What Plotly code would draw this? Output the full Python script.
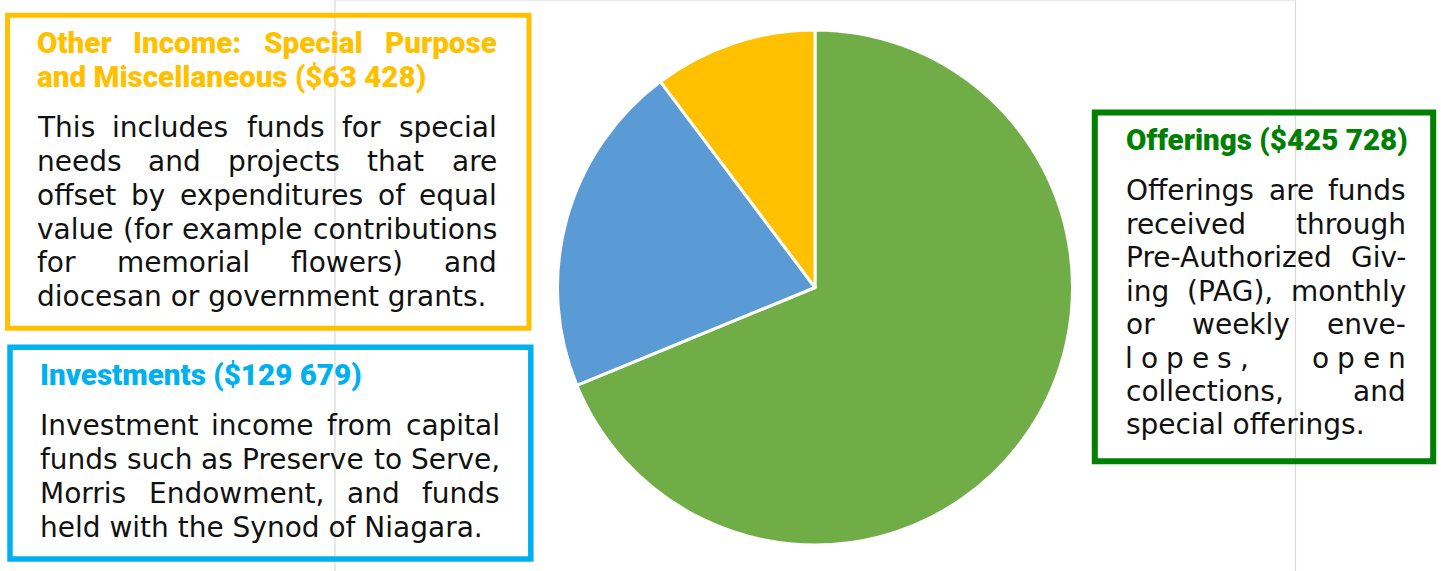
import plotly.graph_objects as go

# ---------------- data ----------------
categories = ["Offerings", "Investments", "Other Income: Special Purpose and Miscellaneous"]
values = [425728, 129679, 63428]
slice_colors = ["#70AD47", "#5B9BD5", "#FFC000"]


def money(v):
    return "($" + f"{v:,}".replace(",", " ") + ")"


other_title = ["Other Income: Special Purpose", "and Miscellaneous " + money(values[2])]
other_body = [
    "This includes funds for special",
    "needs and projects that are",
    "offset by expenditures of equal",
    "value (for example contributions",
    "for memorial flowers) and",
    "diocesan or government grants.",
]
inv_title = ["Investments " + money(values[1])]
inv_body = [
    "Investment income from capital",
    "funds such as Preserve to Serve,",
    "Morris Endowment, and funds",
    "held with the Synod of Niagara.",
]
off_title = ["Offerings " + money(values[0])]
off_body = [
    "Offerings are funds",
    "received through",
    "Pre-Authorized Giv-",
    "ing (PAG), monthly",
    "or weekly enve-",
    "lopes, open",
    "collections, and",
    "special offerings.",
]

# ---------------- layout helpers ----------------
W, H = 1441, 571


def px(x):
    return x / W


def py(y):
    return 1 - y / H


BODY_FONT = "DejaVu Sans"
TITLE_FONT = "Roboto"
BODY_SIZE = 28
TITLE_SIZE = 29.6
TEXT_COLOR = "#111111"

# approximate advance widths (em)
DV = dict(zip(" abcdefghijklmnopqrstuvwxyz",
              [.318, .613, .635, .550, .635, .615, .352, .635, .634, .278, .278, .579, .278, .974,
               .634, .612, .635, .635, .411, .521, .392, .634, .592, .818, .592, .592, .525]))
DV.update({"A": .684, "B": .686, "C": .698, "D": .770, "E": .632, "F": .575, "G": .775, "H": .752,
           "I": .295, "M": .863, "N": .748, "O": .787, "P": .603, "S": .635, "T": .611,
           "(": .390, ")": .390, ",": .318, ".": .318, "-": .361, "$": .636, ":": .337})
RB = dict(zip(" abcdefghijklmnopqrstuvwxyz",
              [.248, .545, .561, .523, .563, .530, .349, .563, .553, .251, .246, .507, .251, .875,
               .553, .570, .561, .563, .346, .516, .330, .553, .492, .747, .497, .488, .497]))
RB.update({"I": .284, "O": .690, "M": .874, "P": .630, "S": .610, "(": .348, ")": .348,
           "$": .562, ":": .243})
for d in "0123456789":
    DV[d] = .636
    RB[d] = .562


def tw(s, table, fs):
    return sum(table.get(c, .6) for c in s) * fs


annotations = []


def ann(text, x, baseline, fs, family, color, weight, xanchor):
    annotations.append(dict(
        text=text, x=px(x), y=py(baseline - 0.345 * fs), xref="paper", yref="paper",
        xanchor=xanchor, yanchor="middle", showarrow=False, borderpad=0, borderwidth=0,
        font=dict(family=family, size=fs, color=color, weight=weight)))


def line(text, left, right, baseline, fs, family, table, color, weight, justify, spread=False):
    words = text.split(" ")
    if spread:
        # letter-spaced justified line (as Word renders it)
        extra = 8
        chars = []
        for wi, wd in enumerate(words):
            for ci, ch in enumerate(wd):
                chars.append((ch, wi, ci))
        nat = sum(tw(c, table, fs) for c, _, _ in chars)
        intra = sum(len(wd) - 1 for wd in words)
        wgap = (right - left - nat - intra * extra) / (len(words) - 1)
        x = left
        prev_w = None
        for ch, wi, ci in chars:
            if prev_w is not None:
                x += extra if wi == prev_w else wgap
            w = tw(ch, table, fs)
            ann(ch, x + w / 2, baseline, fs, family, color, weight, "center")
            x += w
            prev_w = wi
        return
    if not justify or len(words) == 1:
        ann(text, left, baseline, fs, family, color, weight, "left")
        return
    widths = [tw(wd, table, fs) for wd in words]
    gap = (right - left - sum(widths)) / (len(words) - 1)
    x = left
    for i, (wd, w) in enumerate(zip(words, widths)):
        if i == 0:
            ann(wd, left, baseline, fs, family, color, weight, "left")
        elif i == len(words) - 1:
            ann(wd, right, baseline, fs, family, color, weight, "right")
        else:
            ann(wd, x + w / 2, baseline, fs, family, color, weight, "center")
        x += w + gap


def block(title, body, left, right, title_base, title_step, body_base, body_step, color, spread_idx=()):
    for i, t in enumerate(title):
        line(t, left, right, title_base + i * title_step, TITLE_SIZE, TITLE_FONT, RB, color, 900,
             justify=(i < len(title) - 1))
    for i, t in enumerate(body):
        line(t, left, right, body_base + i * body_step, BODY_SIZE, BODY_FONT, DV, TEXT_COLOR, 400,
             justify=(i < len(body) - 1), spread=(i in spread_idx))


block(other_title, other_body, 37, 497, 53.5, 33.8, 137, 33.9, "#FFC000")
block(inv_title, inv_body, 39.5, 500, 385.5, 33.8, 435.5, 33.8, "#00B0F0")
block(off_title, off_body, 1125.5, 1406, 150, 33.5, 200.5, 33.45, "#008000", spread_idx=(5,))

# ---------------- shapes ----------------
shapes = []
GRID = "#D9D9D9"
for gx in (335, 1295.5):
    shapes.append(dict(type="line", xref="paper", yref="paper", x0=px(gx), x1=px(gx), y0=0, y1=1,
                       line=dict(color=GRID, width=1.2), layer="below"))
shapes.append(dict(type="line", xref="paper", yref="paper", x0=px(335), x1=px(1295.5),
                   y0=py(0.6), y1=py(0.6), line=dict(color="#EBEBEB", width=1.5), layer="below"))


def box(x0, y0, x1, y1, color, width):
    shapes.append(dict(type="rect", xref="paper", yref="paper", x0=px(x0), x1=px(x1),
                       y0=py(y1), y1=py(y0), line=dict(color=color, width=width),
                       fillcolor="rgba(0,0,0,0)", layer="above"))


box(7.6, 15.2, 529, 328.2, "#FFC000", 5)
box(10, 347.2, 530.8, 559, "#00B0F0", 5.5)
box(1094.8, 112.4, 1433.2, 461.2, "#008000", 6)

# ---------------- pie ----------------
cx, cy, r = 815, 287.5, 257.5
fig = go.Figure(go.Pie(
    labels=categories, values=values, sort=False, direction="clockwise", rotation=0,
    marker=dict(colors=slice_colors, line=dict(color="#FFFFFF", width=3)),
    textinfo="none", hoverinfo="label+value+percent", showlegend=False,
    domain=dict(x=[px(cx - r), px(cx + r)], y=[py(cy + r), py(cy - r)]),
))

fig.update_layout(
    width=W, height=H, margin=dict(l=0, r=0, t=0, b=0),
    paper_bgcolor="#FFFFFF", plot_bgcolor="#FFFFFF",
    annotations=annotations, shapes=shapes, showlegend=False,
)

fig.write_html("out.html", config={"displayModeBar": False},
               post_script="document.body.style.margin='0';")
